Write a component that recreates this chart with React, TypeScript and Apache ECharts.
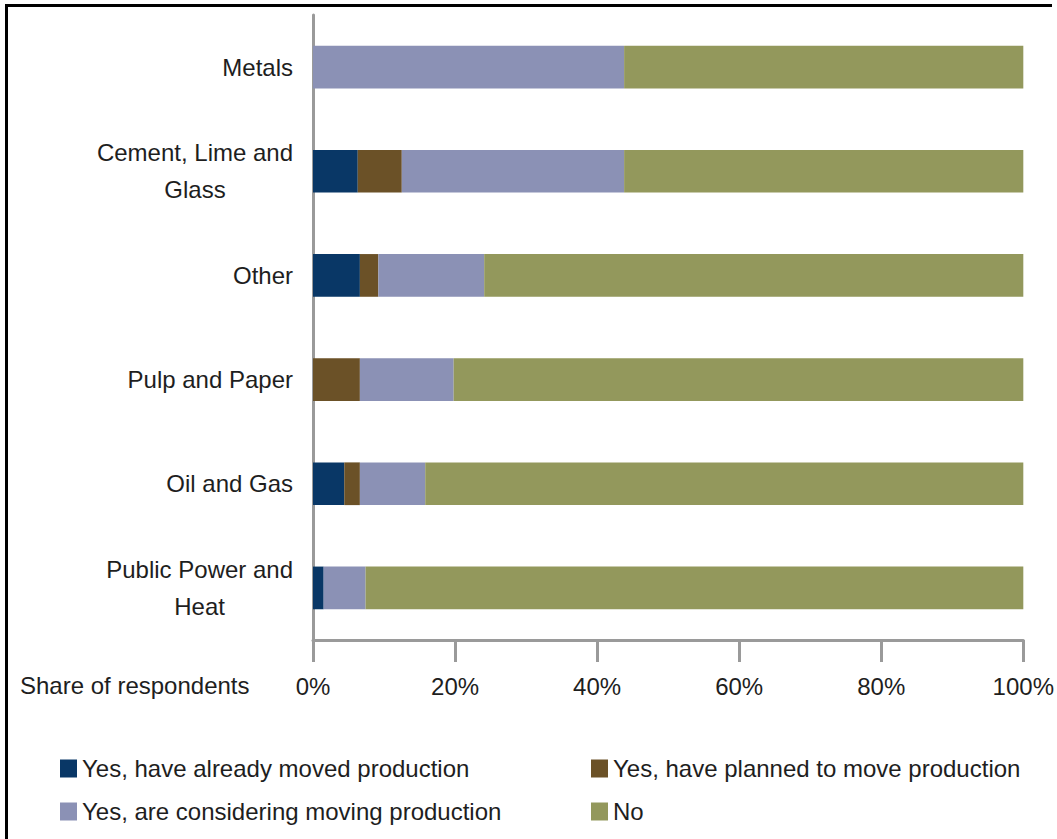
import React, { useEffect, useRef } from "react";
import * as echarts from "echarts";

const categories = [
  "Metals",
  "Cement, Lime and\nGlass",
  "Other",
  "Pulp and Paper",
  "Oil and Gas",
  "Public Power and\nHeat",
];
const seriesNames = [
  "Yes, have already moved production",
  "Yes, have planned to move production",
  "Yes, are considering moving production",
  "No",
];
const alreadyMoved = [0, 6.3, 6.6, 0, 4.4, 1.5];
const plannedMove = [0, 6.2, 2.6, 6.6, 2.2, 0];
const considering = [43.8, 31.3, 14.9, 13.2, 9.2, 5.9];
const noMove = [56.2, 56.2, 75.9, 80.2, 84.2, 92.6];
const xTicks = [0, 20, 40, 60, 80, 100];
const colors = ["#093766", "#6b5127", "#8b91b5", "#93985c"];

const FONT = '"Liberation Sans", Arial, sans-serif';
const FS = 24;
const TXT = "#1e1e1e";

export default function App() {
  const ref = useRef<HTMLDivElement>(null);
  useEffect(() => {
    if (!ref.current) return;
    const chart = echarts.init(ref.current, null, { renderer: "svg" });
    const values = [alreadyMoved, plannedMove, considering, noMove];
    const axisLine = { lineStyle: { color: "#9a9a9a", width: 3 } };
    const legendBase = {
      orient: "vertical",
      top: 756,
      padding: 0,
      itemWidth: 17,
      itemHeight: 18,
      itemGap: 18,
      icon: "rect",
      textStyle: { fontSize: FS, fontFamily: FONT, color: TXT, lineHeight: 25 },
    };
    chart.setOption({
      animation: false,
      backgroundColor: "#ffffff",
      grid: { left: 313, right: 31, top: 15, bottom: 199, containLabel: false },
      xAxis: {
        type: "value",
        min: xTicks[0],
        max: xTicks[xTicks.length - 1],
        interval: xTicks[1] - xTicks[0],
        splitLine: { show: false },
        axisLine: { show: true, ...axisLine },
        axisTick: { show: true, length: 22, ...axisLine },
        axisLabel: {
          formatter: "{value}%",
          fontSize: FS,
          fontFamily: FONT,
          color: TXT,
          margin: 33,
          lineHeight: 26,
        },
      },
      yAxis: {
        type: "category",
        inverse: true,
        data: categories,
        axisLine: { show: true, ...axisLine },
        axisTick: { show: false },
        axisLabel: {
          margin: 20,
          fontSize: FS,
          fontFamily: FONT,
          color: TXT,
          formatter: (v: string) =>
            v
              .split("\n")
              .map((l) => `{c|${l}}`)
              .join("\n"),
          rich: {
            c: { align: "center", fontSize: FS, fontFamily: FONT, color: TXT, lineHeight: 37 },
          },
        },
      },
      legend: [
        { ...legendBase, data: [seriesNames[0], seriesNames[2]], left: 60 },
        { ...legendBase, data: [seriesNames[1], seriesNames[3]], left: 591 },
      ],
      series: seriesNames.map((name, i) => ({
        name,
        type: "bar",
        stack: "total",
        barWidth: "41%",
        data: values[i],
        itemStyle: { color: colors[i] },
      })),
      graphic: [
        {
          type: "text",
          left: 20,
          top: 673,
          style: { text: "Share of respondents", fontSize: FS, fontFamily: FONT, fill: TXT },
        },
        {
          type: "polyline",
          shape: { points: [[6.5, 845], [6.5, 5.5], [1052, 5.5]] },
          style: { stroke: "#000000", lineWidth: 3, fill: "none" },
        },
      ],
    });
    return () => chart.dispose();
  }, []);
  return (
    <div
      ref={ref}
      style={{ position: "absolute", left: 0, top: 0, width: 1057, height: 839 }}
    />
  );
}
